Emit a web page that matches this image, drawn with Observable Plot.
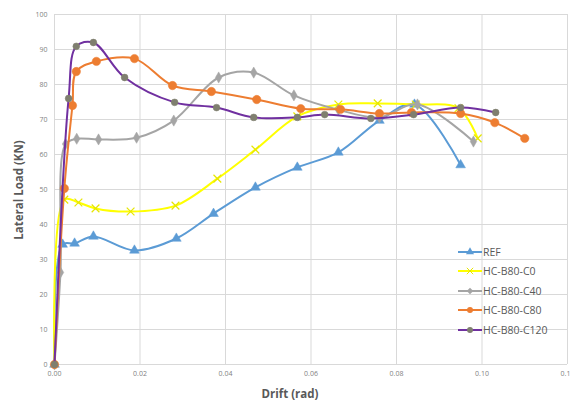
<!DOCTYPE html>
<html>
<head>
<meta charset="utf-8">
<script src="https://cdn.jsdelivr.net/npm/d3@7"></script>
<script src="https://cdn.jsdelivr.net/npm/@observablehq/plot@0.6"></script>
<style>
  html, body { margin: 0; padding: 0; background: #fff; }
  #wrap { position: relative; width: 570px; height: 405px; overflow: hidden; font-family: "Open Sans", "Liberation Sans", sans-serif; }
  .ttl { position: absolute; color: #595959; font-weight: bold; font-size: 11.5px; white-space: nowrap; }
  #legend { position: absolute; left: 458px; top: 242px; font-size: 10.5px; color: #595959; }
  #legend .row { display: flex; align-items: center; height: 19.5px; }
  #legend svg { margin-right: 1px; }
</style>
</head>
<body>
<div id="wrap"></div>
<script>
// ---- data ----
const seriesNames = ["REF", "HC-B80-C0", "HC-B80-C40", "HC-B80-C80", "HC-B80-C120"];

const refDrift  = [0, 0.0019, 0.0047, 0.0091, 0.0187, 0.0285, 0.0372, 0.0470, 0.0568, 0.0664, 0.0760, 0.0842, 0.0950];
const refLoad   = [0, 34.3, 34.6, 36.6, 32.6, 36.0, 43.1, 50.6, 56.3, 60.6, 69.7, 74.3, 57.0];

const c0Drift   = [0, 0.0023, 0.0056, 0.0096, 0.0178, 0.0283, 0.0381, 0.0470, 0.0568, 0.0664, 0.0756, 0.0845, 0.0945, 0.0990];
const c0Load    = [0, 47.1, 46.3, 44.6, 43.7, 45.4, 53.1, 61.4, 70.9, 74.3, 74.6, 74.3, 73.2, 64.6];

const c40Drift  = [0, 0.0014, 0.0026, 0.0052, 0.0103, 0.0192, 0.0279, 0.0384, 0.0466, 0.0560, 0.0664, 0.0760, 0.0849, 0.0980];
const c40Load   = [0, 26.3, 63.0, 64.5, 64.3, 64.8, 69.7, 82.0, 83.4, 76.9, 72.8, 70.6, 74.3, 63.7];

const c80Drift  = [0, 0.0023, 0.0042, 0.0051, 0.0098, 0.0187, 0.0276, 0.0367, 0.0473, 0.0576, 0.0669, 0.0760, 0.0835, 0.0950, 0.1030, 0.1100];
const c80Load   = [0, 50.3, 74.0, 83.7, 86.6, 87.4, 79.7, 78.0, 75.7, 73.1, 72.9, 71.7, 72.0, 71.7, 69.1, 64.6];

const c120Drift = [0, 0.0033, 0.0051, 0.0091, 0.0164, 0.0281, 0.0379, 0.0466, 0.0568, 0.0632, 0.0740, 0.0840, 0.0950, 0.1032];
const c120Load  = [0, 76.0, 90.9, 92.0, 82.0, 74.9, 73.4, 70.6, 70.6, 71.4, 70.3, 71.4, 73.4, 72.0];

const xTicks = [0, 0.02, 0.04, 0.06, 0.08, 0.10, 0.12];
const yTicks = [0, 10, 20, 30, 40, 50, 60, 70, 80, 90, 100];

// ---- styles ----
const styles = {
  "REF":         {stroke: "#5B9BD5", fill: "#5B9BD5", symbol: "triangle", r: 3.6},
  "HC-B80-C0":   {stroke: "#FFFF00", fill: "none",    symbol: "times",    r: 3.6, markStroke: "#E6E600"},
  "HC-B80-C40":  {stroke: "#A5A5A5", fill: "#A5A5A5", symbol: "diamond",  r: 3.4},
  "HC-B80-C80":  {stroke: "#ED7D31", fill: "#ED7D31", symbol: "circle",   r: 4.2},
  "HC-B80-C120": {stroke: "#7030A0", fill: "#7F7F6F", symbol: "circle",   r: 3.4}
};

const drifts = [refDrift, c0Drift, c40Drift, c80Drift, c120Drift];
const loads  = [refLoad, c0Load, c40Load, c80Load, c120Load];
const table = seriesNames.map((name, i) => drifts[i].map((d, j) => ({series: name, drift: d, load: loads[i][j]})));

const marks = [
  Plot.gridY(yTicks, {stroke: "#d9d9d9", strokeOpacity: 1, strokeWidth: 1}),
  Plot.gridX(xTicks, {stroke: "#d9d9d9", strokeOpacity: 1, strokeWidth: 1}),
  Plot.axisY(yTicks, {tickSize: 0, tickPadding: 7, fontSize: 7, fill: "#7f7f7f", label: null, tickFormat: d => String(d)}),
  Plot.axisX(xTicks, {tickSize: 0, tickPadding: 7, fontSize: 7, fill: "#7f7f7f", label: null, tickFormat: d3.format(".2f")})
];

table.forEach((rows, i) => {
  const s = styles[seriesNames[i]];
  marks.push(Plot.line(rows, {x: "drift", y: "load", stroke: s.stroke, strokeWidth: 2, curve: "catmull-rom"}));
  if (s.symbol === "times") {
    marks.push(Plot.dot(rows.slice(1), {x: "drift", y: "load", symbol: "times", r: s.r, stroke: s.markStroke, strokeWidth: 1.2}));
  } else {
    marks.push(Plot.dot(rows, {x: "drift", y: "load", symbol: s.symbol, r: s.r, fill: s.fill, stroke: s.fill, strokeWidth: 0.5}));
  }
});

const chart = Plot.plot({
  width: 570,
  height: 405,
  marginLeft: 54,
  marginRight: 3,
  marginTop: 14,
  marginBottom: 41,
  x: {domain: [0, 0.12], label: null},
  y: {domain: [0, 100], label: null},
  style: {fontFamily: "'Open Sans', 'Liberation Sans', sans-serif", background: "white", overflow: "hidden"},
  marks
});

const wrap = document.getElementById("wrap");
wrap.appendChild(chart);

// axis titles
const yt = document.createElement("div");
yt.className = "ttl";
yt.textContent = "Lateral Load (KN)";
yt.style.left = "18px";
yt.style.top = "190px";
yt.style.transform = "translate(-50%, -50%) rotate(-90deg)";
wrap.appendChild(yt);

const xt = document.createElement("div");
xt.className = "ttl";
xt.textContent = "Drift (rad)";
xt.style.left = "290px";
xt.style.top = "393px";
xt.style.transform = "translate(-50%, -50%)";
wrap.appendChild(xt);

// legend
const legend = document.createElement("div");
legend.id = "legend";
seriesNames.forEach(name => {
  const s = styles[name];
  const row = document.createElement("div");
  row.className = "row";
  const svg = d3.create("svg").attr("width", 24).attr("height", 10);
  svg.append("line").attr("x1", 0).attr("x2", 24).attr("y1", 5).attr("y2", 5).attr("stroke", s.stroke).attr("stroke-width", 2);
  const sym = {triangle: d3.symbolTriangle, diamond: d3.symbolDiamond2, circle: d3.symbolCircle, times: d3.symbolTimes}[s.symbol];
  const path = svg.append("path").attr("transform", "translate(12,5)").attr("d", d3.symbol(sym, 28)());
  if (s.symbol === "times") path.attr("fill", "none").attr("stroke", s.markStroke).attr("stroke-width", 1);
  else path.attr("fill", s.fill);
  row.appendChild(svg.node());
  const t = document.createElement("span");
  t.textContent = name;
  row.appendChild(t);
  legend.appendChild(row);
});
wrap.appendChild(legend);
</script>
</body>
</html>
